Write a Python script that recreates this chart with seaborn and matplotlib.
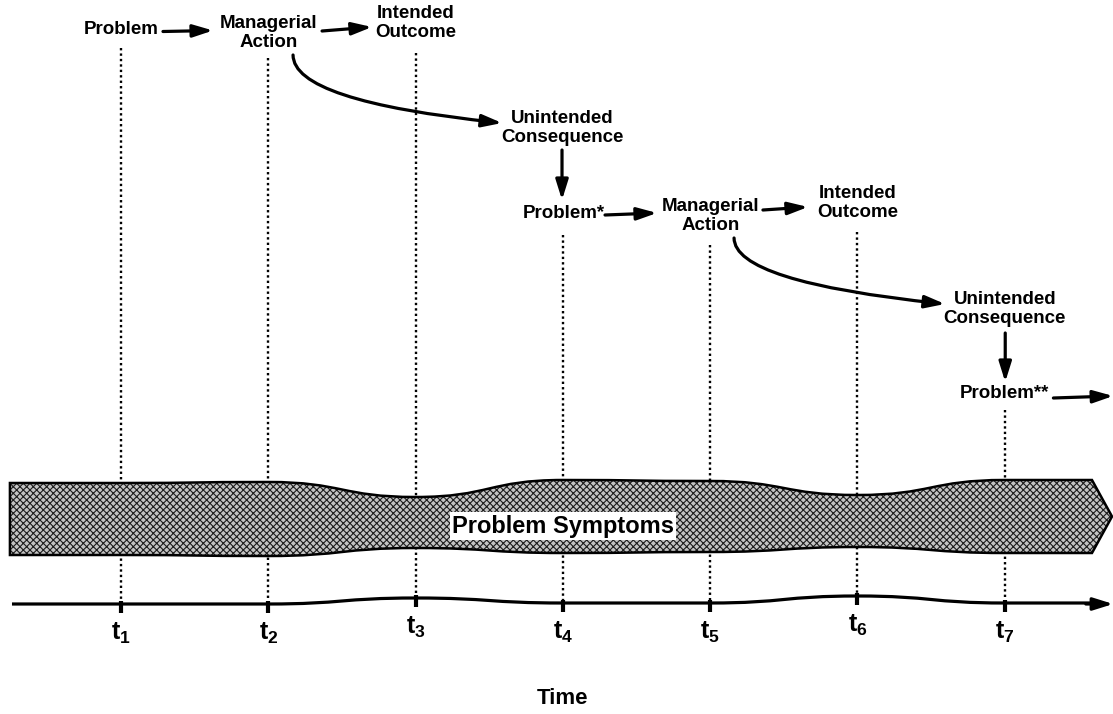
import numpy as np
import pandas as pd
import matplotlib.pyplot as plt
import seaborn as sns
from matplotlib.path import Path
from matplotlib.patches import PathPatch

# Punti temporali t1..t7 (unita' di tempo) e etichette
t_pos = [1, 2, 3, 4, 5, 6, 7]
t_labels = [r'$\mathbf{t_%d}$' % i for i in t_pos]

# Banda "Problem Symptoms": bordo superiore / inferiore a ogni t (y dall'alto)
band_top = [483, 482, 497, 480, 481, 495, 480]
band_bottom = [555, 556, 548, 553, 552, 547, 553]
# Asse del tempo (linea ondulata) a ogni t
timeline_y = [604, 604, 598, 603, 603, 596, 603]
# Inizio delle linee tratteggiate verticali
guide_start = [48, 58, 53, 235, 245, 232, 410]

# Nodi del diagramma: testo, posizione t, altezza
node_text = ['Problem', 'Managerial\nAction', 'Intended\nOutcome', 'Unintended\nConsequence',
             'Problem*', 'Managerial\nAction', 'Intended\nOutcome', 'Unintended\nConsequence',
             'Problem**']
node_t = [1.0, 2.0, 3.0, 3.994, 4.004, 5.0, 6.0, 7.0, 7.0]
node_y = [30, 33, 23, 128, 213, 216, 203, 309, 394]

# Frecce dritte (t0, y0, t1, y1)
straight_arrows = [
    (1.285, 31.5, 1.625, 30.5),
    (2.365, 31, 2.704, 27),
    (3.994, 150, 3.994, 200),
    (4.286, 215, 4.639, 213),
    (5.358, 210, 5.664, 207),
    (7.003, 333, 7.003, 382),
    (7.33, 398, 7.736, 396),
]
# Frecce curve (azione -> conseguenza non voluta)
curved_arrows = [
    (2.168, 55, 3.587, 123),
    (5.162, 238, 6.594, 304),
]

sns.set_theme(style='white')
plt.rcParams['font.family'] = ['Liberation Sans', 'DejaVu Sans']
plt.rcParams['font.weight'] = 'bold'
plt.rcParams['text.color'] = 'black'
plt.rcParams['mathtext.fontset'] = 'custom'
plt.rcParams['mathtext.bf'] = 'Liberation Sans:bold'
plt.rcParams['mathtext.rm'] = 'Liberation Sans:bold'
plt.rcParams['hatch.linewidth'] = 0.8


def smooth(xs, ys):
    # curva di Bezier con tangenti orizzontali nei punti dati
    verts = [(xs[0], ys[0])]
    codes = [Path.LINETO]
    for i in range(len(xs) - 1):
        dx = (xs[i + 1] - xs[i]) / 2
        verts += [(xs[i] + dx, ys[i]), (xs[i + 1] - dx, ys[i + 1]), (xs[i + 1], ys[i + 1])]
        codes += [Path.CURVE4] * 3
    return verts, codes


fig = plt.figure(figsize=(11.13, 7.14), dpi=100)
ax = fig.add_axes([0, 0, 1, 1])
ax.set_xlim(0.1786, 7.7346)
ax.set_ylim(714, 0)
ax.axis('off')

# linee verticali tratteggiate
ax.vlines(t_pos, guide_start, timeline_y, colors='black', linestyles=(0, (1, 1.3)), lw=1.7, zorder=1)

# banda dei sintomi
band_left, band_flat, band_tip = 0.246, 7.592, 7.728
tv, tc = smooth(t_pos, band_top)
bv, bc = smooth(t_pos[::-1], band_bottom[::-1])
verts = [(band_left, band_top[0])] + tv + [(band_flat, band_top[-1]),
         (band_tip, (band_top[-1] + band_bottom[-1]) / 2), (band_flat, band_bottom[-1])] \
    + bv + [(band_left, band_bottom[0]), (band_left, band_top[0])]
codes = [Path.MOVETO] + tc + [Path.LINETO] * 3 + bc + [Path.LINETO, Path.CLOSEPOLY]
band = Path(verts, codes)
ax.add_patch(PathPatch(band, facecolor='#c4c4c4', edgecolor='#1e1e1e', hatch='xxxxx', lw=0, zorder=2))
ax.add_patch(PathPatch(band, fill=False, edgecolor='black', lw=1.8, zorder=2.5))
ax.text(4.0, 526, 'Problem Symptoms', ha='center', va='center', fontsize=17, fontweight='bold',
        zorder=3, bbox=dict(boxstyle='square,pad=0.1', facecolor='white', edgecolor='none'))

# asse del tempo
lv, lc = smooth(t_pos, timeline_y)
line_verts = [(0.26, timeline_y[0])] + lv + [(7.6, timeline_y[-1])]
line_codes = [Path.MOVETO] + lc + [Path.LINETO]
ax.add_patch(PathPatch(Path(line_verts, line_codes), fill=False, edgecolor='black', lw=2.3, zorder=3))
ax.annotate('', xy=(7.736, timeline_y[-1] + 1), xytext=(7.55, timeline_y[-1] + 1),
            arrowprops=dict(arrowstyle='-|>,head_length=0.8,head_width=0.25', color='black',
                            lw=2.3, shrinkA=0, shrinkB=0, mutation_scale=15), zorder=3)
sns.scatterplot(x=t_pos, y=[y + 3 for y in timeline_y], marker='|', s=70, linewidth=3,
                color='black', ax=ax, zorder=4, legend=False)
for t, y, lab in zip(t_pos, timeline_y, t_labels):
    ax.text(t, y + 17, lab, ha='center', va='top', fontsize=18)

ax.text(4.0, 699, 'Time', ha='center', va='center', fontsize=16, fontweight='bold')

# nodi
for txt, t, y in zip(node_text, node_t, node_y):
    ax.text(t, y, txt, ha='center', va='center', fontsize=13.5, fontweight='bold', linespacing=1.1)

arrow_style = dict(arrowstyle='-|>,head_length=0.8,head_width=0.25', color='black', lw=2.3,
                   shrinkA=0, shrinkB=0, mutation_scale=15)
for x0, y0, x1, y1 in straight_arrows:
    ax.annotate('', xy=(x1, y1), xytext=(x0, y0), arrowprops=arrow_style)
for x0, y0, x1, y1 in curved_arrows:
    ax.annotate('', xy=(x1, y1), xytext=(x0, y0),
                arrowprops=dict(arrow_style, connectionstyle='angle3,angleA=90,angleB=-6'))

plt.savefig('out.png', dpi=100)
